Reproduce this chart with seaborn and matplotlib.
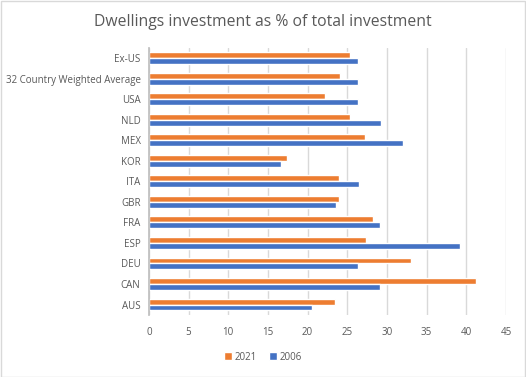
import matplotlib
matplotlib.use("Agg")
import matplotlib.pyplot as plt
import pandas as pd
import seaborn as sns
from matplotlib.patches import Patch

categories = [
    "Ex-US", "32 Country Weighted Average", "USA", "NLD", "MEX", "KOR",
    "ITA", "GBR", "FRA", "ESP", "DEU", "CAN", "AUS",
]
values_2021 = [25.4, 24.1, 22.2, 25.4, 27.2, 17.4, 24.0, 24.0, 28.3, 27.4, 33.0, 41.2, 23.4]
values_2006 = [26.3, 26.3, 26.3, 29.3, 32.0, 16.7, 26.5, 23.6, 29.1, 39.2, 26.4, 29.1, 20.6]
series = ["2021", "2006"]
colors = ["#ED7D31", "#4472C4"]
x_ticks = list(range(0, 50, 5))

df = pd.concat([
    pd.DataFrame({"country": categories, "year": "2021", "value": values_2021}),
    pd.DataFrame({"country": categories, "year": "2006", "value": values_2006}),
])

sns.set_theme(style="white")
plt.rcParams["font.family"] = ["Open Sans", "DejaVu Sans"]

fig = plt.figure(figsize=(5.26, 3.77), dpi=100)
ax = fig.add_axes([0.283, 0.165, 0.679, 0.708])

sns.barplot(
    data=df, x="value", y="country", hue="year", order=categories,
    hue_order=series, palette=colors, width=0.58, orient="h",
    saturation=1, ax=ax, legend=False,
)

ax.set_xlim(0, 45)
ax.set_xticks(x_ticks)
ax.grid(axis="x", color="#d9d9d9", linewidth=1)
ax.set_axisbelow(True)
for side in ["top", "right", "bottom"]:
    ax.spines[side].set_visible(False)
ax.spines["left"].set_color("#bfbfbf")
ax.set_xlabel("")
ax.set_ylabel("")
ax.tick_params(axis="both", length=0, labelsize=7, labelcolor="#595959")
ax.tick_params(axis="x", pad=9)
ax.tick_params(axis="y", pad=6)

fig.suptitle("Dwellings investment as % of total investment", y=0.962,
             fontsize=11.3, color="#595959")

handles = [Patch(facecolor=c, label=s) for c, s in zip(colors, series)]
fig.legend(handles=handles, loc="center", bbox_to_anchor=(0.5, 0.053), ncol=2,
           frameon=False, fontsize=7, labelcolor="#595959", handlelength=0.8,
           handleheight=0.8, handletextpad=0.3, columnspacing=1.2)

fig.patches.append(plt.Rectangle((0.001, 0.001), 0.997, 0.997, transform=fig.transFigure,
                                 fill=False, edgecolor="#d9d9d9", linewidth=1))

fig.savefig("out.png", dpi=100)
